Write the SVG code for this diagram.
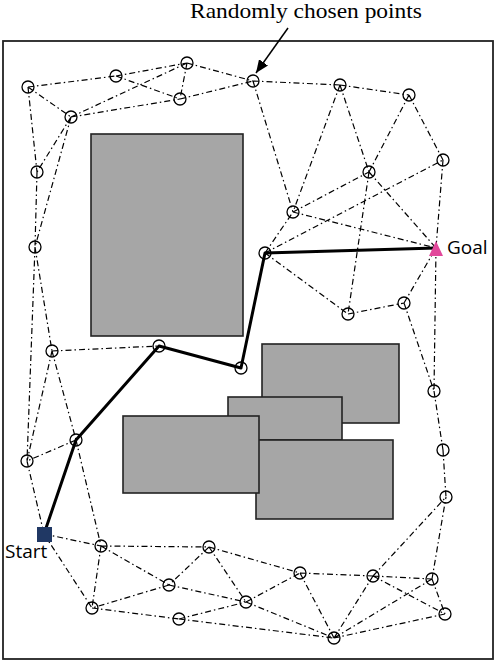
<svg xmlns="http://www.w3.org/2000/svg" width="496" height="666" viewBox="0 0 496 666">
<defs>
<style>
.e{stroke:#000;stroke-width:1.2;stroke-dasharray:6 3 1.5 3;fill:none}
.n{fill:none;stroke:#000;stroke-width:1.3}
.ob{fill:#a6a6a6;stroke:#222;stroke-width:1.6}
.lbl{font-family:"Open Sans","Liberation Sans",sans-serif;font-size:19px;fill:#000}
</style>
<marker id="ah" markerUnits="userSpaceOnUse" markerWidth="13" markerHeight="11" refX="13" refY="5.5" orient="auto">
<path d="M0,0 L13,5.5 L0,11 z" fill="#000"/>
</marker>
</defs>
<rect width="496" height="666" fill="#fff"/>
<rect x="3" y="41" width="490" height="618" fill="none" stroke="#222" stroke-width="1.8"/>
<g id="obstacles">
<rect class="ob" x="91" y="134" width="152" height="202"/>
<rect class="ob" x="262" y="344" width="137" height="79"/>
<rect class="ob" x="228" y="397" width="114" height="43"/>
<rect class="ob" x="256" y="440" width="137" height="79"/>
<rect class="ob" x="123" y="416" width="136" height="77"/>
</g>
<g id="connectors">
<path class="e" d="M28,87L116,76 M116,76L187,63 M116,76L180,99 M28,87L71,117 M71,117L187,63 M71,117L180,99 M187,63L180,99 M187,63L253,81 M180,99L253,81 M28,87L37,172 M71,117L37,172 M71,117L35,247 M37,172L35,247 M35,247L52,351 M35,247L27,461"/>
<path class="e" d="M253,81L340,85 M340,85L409,95 M253,81L293,212 M340,85L293,212 M340,85L369,172 M409,95L369,172 M409,95L443,160"/>
<path class="e" d="M293,212L369,172 M265,253L443,160 M293,212L436,248 M369,172L436,248 M369,172L348,314 M443,160L436,248 M265,253L293,212 M265,253L348,314 M348,314L404,303 M404,303L436,248 M436,248L434,391 M404,303L434,391"/>
<path class="e" d="M52,351L159,346 M52,351L76,440 M52,351L27,461 M76,440L27,461 M76,440L101,546 M27,461L44,534 M434,391L443,450 M443,450L446,497"/>
<path class="e" d="M44,534L101,546 M44,534L92,608 M101,546L209,547 M101,546L169,585 M101,546L92,608 M209,547L169,585 M209,547L246,602 M209,547L300,573 M169,585L92,608 M169,585L246,602 M92,608L179,619 M179,619L246,602 M179,619L334,638 M246,602L300,573 M246,602L334,638 M300,573L373,576 M300,573L334,638 M373,576L446,497 M373,576L432,579 M373,576L445,614 M373,576L334,638 M432,579L446,497 M432,579L445,614 M432,579L334,638 M445,614L334,638"/>
<path id="route" d="M44,534L76,440L159,346L241,368L265,253L436,248" fill="none" stroke="#000" stroke-width="3" stroke-linejoin="round"/>
<line x1="288" y1="28" x2="256" y2="73" stroke="#000" stroke-width="1.5" marker-end="url(#ah)"/>
</g>
<g id="nA"><circle class="n" cx="28" cy="87" r="6"/></g>
<g id="nB"><circle class="n" cx="116" cy="76" r="6"/></g>
<g id="nC"><circle class="n" cx="187" cy="63" r="6"/></g>
<g id="nD"><circle class="n" cx="180" cy="99" r="6"/></g>
<g id="nE"><circle class="n" cx="71" cy="117" r="6"/></g>
<g id="nF"><circle class="n" cx="253" cy="81" r="6"/></g>
<g id="nG"><circle class="n" cx="340" cy="85" r="6"/></g>
<g id="nH"><circle class="n" cx="409" cy="95" r="6"/></g>
<g id="nI"><circle class="n" cx="443" cy="160" r="6"/></g>
<g id="nJ"><circle class="n" cx="369" cy="172" r="6"/></g>
<g id="nK"><circle class="n" cx="37" cy="172" r="6"/></g>
<g id="nL"><circle class="n" cx="35" cy="247" r="6"/></g>
<g id="nM"><circle class="n" cx="293" cy="212" r="6"/></g>
<g id="nN"><circle class="n" cx="265" cy="253" r="6"/></g>
<g id="nO"><circle class="n" cx="348" cy="314" r="6"/></g>
<g id="nP"><circle class="n" cx="404" cy="303" r="6"/></g>
<g id="nQ"><circle class="n" cx="52" cy="351" r="6"/></g>
<g id="nR"><circle class="n" cx="159" cy="346" r="6"/></g>
<g id="nS"><circle class="n" cx="241" cy="368" r="6"/></g>
<g id="nT"><circle class="n" cx="76" cy="440" r="6"/></g>
<g id="nU"><circle class="n" cx="27" cy="461" r="6"/></g>
<g id="nV"><circle class="n" cx="434" cy="391" r="6"/></g>
<g id="nW"><circle class="n" cx="443" cy="450" r="6"/></g>
<g id="nX"><circle class="n" cx="101" cy="546" r="6"/></g>
<g id="nY"><circle class="n" cx="209" cy="547" r="6"/></g>
<g id="nZ"><circle class="n" cx="169" cy="585" r="6"/></g>
<g id="nAA"><circle class="n" cx="92" cy="608" r="6"/></g>
<g id="nAB"><circle class="n" cx="179" cy="619" r="6"/></g>
<g id="nAC"><circle class="n" cx="246" cy="602" r="6"/></g>
<g id="nAD"><circle class="n" cx="446" cy="497" r="6"/></g>
<g id="nAE"><circle class="n" cx="300" cy="573" r="6"/></g>
<g id="nAF"><circle class="n" cx="373" cy="576" r="6"/></g>
<g id="nAG"><circle class="n" cx="432" cy="579" r="6"/></g>
<g id="nAH"><circle class="n" cx="445" cy="614" r="6"/></g>
<g id="nAI"><circle class="n" cx="334" cy="638" r="6"/></g>
<g id="goal"><polygon points="436,241 429,256 443,256" fill="#e2489b"/><text class="lbl" x="447" y="254">Goal</text></g>
<g id="start"><rect x="37" y="527" width="15" height="15" fill="#203864"/><text class="lbl" x="5" y="558">Start</text></g>
<g id="label"><text x="190" y="18" font-family="'Liberation Serif','Times New Roman',serif" font-size="21" textLength="232" lengthAdjust="spacingAndGlyphs">Randomly chosen points</text></g>
</svg>
